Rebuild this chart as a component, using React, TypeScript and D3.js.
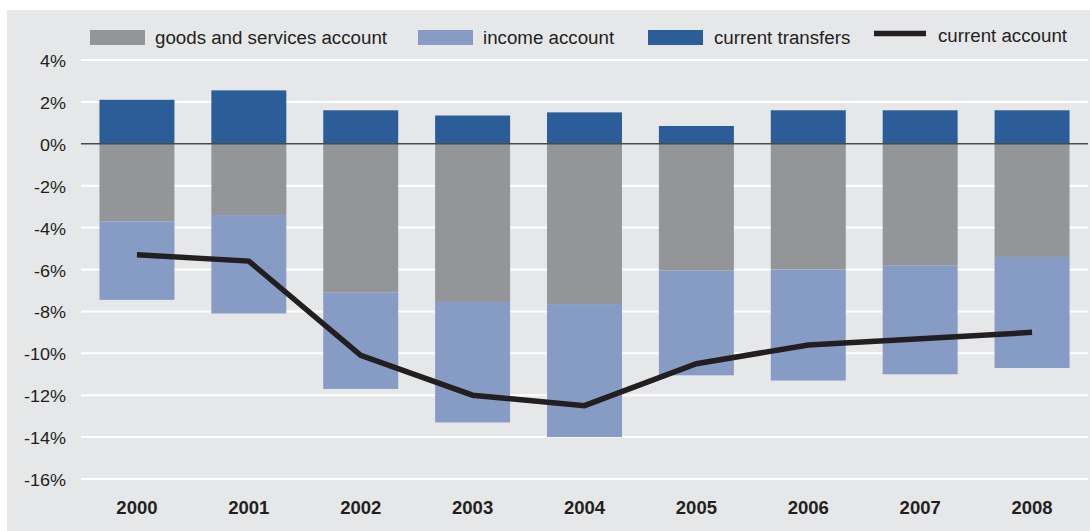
import React from "react";
import * as d3 from "d3";

const years = ["2000", "2001", "2002", "2003", "2004", "2005", "2006", "2007", "2008"];
const goodsServices = [-3.7, -3.4, -7.1, -7.55, -7.65, -6.05, -6.0, -5.8, -5.4];
const incomeAccount = [-3.75, -4.7, -4.6, -5.75, -6.35, -5.0, -5.3, -5.2, -5.3];
const currentTransfers = [2.1, 2.55, 1.6, 1.35, 1.5, 0.85, 1.6, 1.6, 1.6];
const currentAccount = [-5.3, -5.6, -10.1, -12.0, -12.5, -10.5, -9.6, -9.3, -9.0];
const yTicks = [4, 2, 0, -2, -4, -6, -8, -10, -12, -14, -16];
const legendLabels = ["goods and services account", "income account", "current transfers", "current account"];

const W = 1090;
const H = 531;
const C_GOODS = "#939598";
const C_INCOME = "#879cc4";
const C_TRANSF = "#2b5e98";
const C_LINE = "#231f20";
const BG = "#e6e7e9";
const FONT = "'Liberation Sans', Arial, sans-serif";

function SText({ x, y, anchor, children, weight, size, sx }: any) {
  return (
    <text
      transform={`translate(${x},${y}) scale(${sx || 1},1)`}
      textAnchor={anchor || "start"}
      fontFamily={FONT}
      fontSize={size || 16}
      fontWeight={weight || "normal"}
      fill="#231f20"
    >
      {children}
    </text>
  );
}

export default function App() {
  const x = d3.scaleBand<string>().domain(years).range([81, 1088]).padding(0);
  const y = d3.scaleLinear().domain([-16, 4]).range([479, 60]);
  const bw = x.bandwidth() * 0.67;
  const cx = (yr: string) => (x(yr) as number) + x.bandwidth() / 2;

  const line = d3
    .line<number>()
    .x((_, i) => cx(years[i]))
    .y((d) => y(d));

  const legend = [
    { sx: 90, tx: 155, color: C_GOODS, type: "rect" },
    { sx: 418, tx: 483, color: C_INCOME, type: "rect" },
    { sx: 648, tx: 714, color: C_TRANSF, type: "rect" },
    { sx: 874, tx: 938, color: C_LINE, type: "line" },
  ];

  return (
    <svg width={W} height={H} style={{ position: "absolute", left: 0, top: 0 }}>
      <rect x={0} y={0} width={W} height={H} fill="#ffffff" />
      <rect x={7} y={10} width={W - 7} height={H - 10} fill={BG} />

      {/* legend */}
      {legend.map((l, i) => (
        <g key={i}>
          {l.type === "rect" ? (
            <rect x={l.sx} y={30} width={55} height={15} fill={l.color} />
          ) : (
            <line x1={l.sx} x2={l.sx + 52} y1={33.5} y2={33.5} stroke={l.color} strokeWidth={5.5} />
          )}
          <SText x={l.tx} y={l.type === "rect" ? 43.5 : 41.5} size={18} sx={1.04}>
            {legendLabels[i]}
          </SText>
        </g>
      ))}

      {/* gridlines */}
      {yTicks.map((t) => (
        <g key={t}>
          {t !== 0 && (
            <line x1={81} x2={1088} y1={y(t)} y2={y(t)} stroke="#ffffff" strokeWidth={2} />
          )}
          <SText x={66} y={y(t) + 7} anchor="end" size={17} sx={1.06}>
            {`${t}%`}
          </SText>
        </g>
      ))}

      {/* bars */}
      {years.map((yr, i) => {
        const left = cx(yr) - bw / 2;
        const g = goodsServices[i];
        const inc = incomeAccount[i];
        const tr = currentTransfers[i];
        return (
          <g key={yr}>
            <rect x={left} y={y(tr)} width={bw} height={y(0) - y(tr)} fill={C_TRANSF} />
            <rect x={left} y={y(0)} width={bw} height={y(g) - y(0)} fill={C_GOODS} />
            <rect x={left} y={y(g)} width={bw} height={y(g + inc) - y(g)} fill={C_INCOME} />
          </g>
        );
      })}

      {/* zero line */}
      <line x1={81} x2={1088} y1={y(0)} y2={y(0)} stroke="#4a4a4a" strokeWidth={1.5} />

      {/* current account line */}
      <path d={line(currentAccount) || ""} fill="none" stroke={C_LINE} strokeWidth={5.5} strokeLinejoin="miter" />

      {/* x labels */}
      {years.map((yr) => (
        <SText key={yr} x={cx(yr)} y={514} anchor="middle" weight="bold" size={18.5}>
          {yr}
        </SText>
      ))}
    </svg>
  );
}
